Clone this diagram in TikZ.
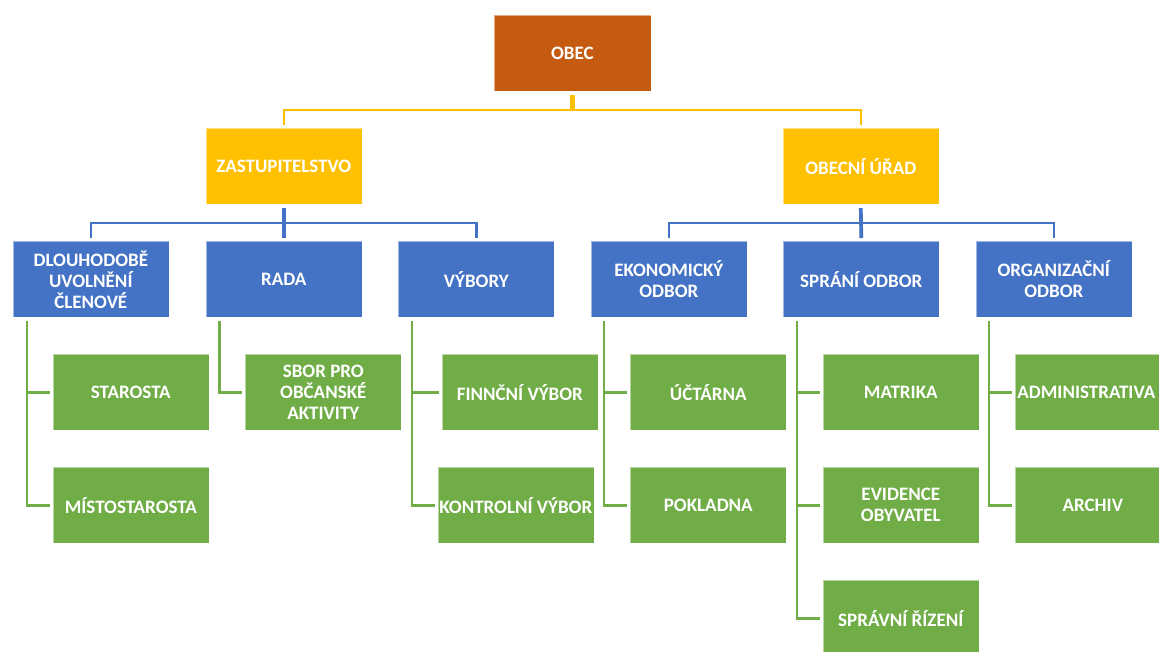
\documentclass[tikz,border=0pt]{standalone}
\usepackage{fontspec}
\setmainfont{Carlito}
\usetikzlibrary{calc}
\definecolor{corange}{HTML}{C55A11}
\definecolor{cyellow}{HTML}{FFC000}
\definecolor{cblue}{HTML}{4472C4}
\definecolor{cgreen}{HTML}{70AD47}
\tikzset{
  boxfont/.style={text=white, font=\fontsize{19}{21}\selectfont\bfseries},
  box/.style={anchor=north west, minimum width=156pt, minimum height=76pt, inner sep=0pt,
    align=center, boxfont,
    draw=white, draw opacity=0.5, line width=0.6pt},
  obox/.style={box, fill=corange, minimum width=157pt},
  ybox/.style={box, fill=cyellow},
  bbox/.style={box, fill=cblue},
  gbox/.style={box, fill=cgreen},
  ythin/.style={draw=cyellow, line width=2pt},
  ythick/.style={draw=cyellow, line width=4.5pt},
  bthin/.style={draw=cblue, line width=2.4pt},
  bthick/.style={draw=cblue, line width=3.7pt},
  gline/.style={draw=cgreen, line width=2.8pt},
}
\begin{document}
\begin{tikzpicture}[x=1pt,y=-1pt]
\useasboundingbox (0,0) rectangle (1159,651);
% level 0
\node[obox] (obec) at (493.5,15) {OBEC};
% level 1
\node[ybox] (zast) at (205.5,128) {ZASTUPITELSTVO};
\node[ybox] (urad) at (782.5,128) {OBECNÍ ÚŘAD};
% level 2
\node[bbox] (dlouho) at (12.5,241) {DLOUHODOBĚ\\UVOLNĚNÍ\\ČLENOVÉ};
\node[bbox] (rada) at (205.5,241) {RADA};
\node[bbox] (vybory) at (398,241) {VÝBORY};
\node[bbox] (ekon) at (590.5,241) {EKONOMICKÝ\\ODBOR};
\node[bbox] (sprani) at (783,241) {SPRÁNÍ ODBOR};
\node[bbox] (organ) at (975.5,241) {ORGANIZAČNÍ\\ODBOR};
% level 3
\node[gbox] (starosta) at (52.5,354) {STAROSTA};
\node[gbox] (mist) at (52.5,467) {MÍSTOSTAROSTA};
\node[gbox] (sbor) at (245,354) {SBOR PRO\\OBČANSKÉ\\AKTIVITY};
\node[gbox] (finn) at (441.5,354) {FINNČNÍ VÝBOR};
\node[gbox] (kontr) at (437.5,467) {KONTROLNÍ VÝBOR};
\node[gbox] (uct) at (630,354) {ÚČTÁRNA};
\node[gbox] (pokl) at (630,467) {POKLADNA};
\node[gbox] (matr) at (822.5,354) {MATRIKA};
\node[gbox] (evid) at (822.5,467) {EVIDENCE\\OBYVATEL};
\node[gbox] (rizeni) at (822.5,580) {SPRÁVNÍ ŘÍZENÍ};
\node[gbox] (admin) at (1014.5,354) {};
\node[boxfont, inner sep=0pt] (admintext) at ([xshift=-6.5pt]admin.center) {ADMINISTRATIVA};
\node[gbox] (archiv) at (1014.5,467) {ARCHIV};
% yellow connectors
\coordinate (yb) at (573,110);
\draw[ythin] ([yshift=3pt]zast.north) -- (zast.north |- yb) -- (urad.north |- yb) -- ([yshift=3pt]urad.north);
\draw[ythick] ([yshift=-3.5pt]obec.south) -- ([yshift=1pt]obec.south |- yb);
% blue connectors
\coordinate (zb) at (283.5,223);
\draw[bthin] ([yshift=3pt]dlouho.north) -- (dlouho.north |- zb) -- (vybory.north |- zb) -- ([yshift=3pt]vybory.north);
\draw[bthick] ([yshift=-3.5pt]zast.south) -- ([yshift=3pt]rada.north);
\coordinate (ub) at (861,223);
\draw[bthin] ([yshift=3pt]ekon.north) -- (ekon.north |- ub) -- (organ.north |- ub) -- ([yshift=3pt]organ.north);
\draw[bthick] ([yshift=-3.5pt]urad.south) -- ([yshift=3pt]sprani.north);
% green connectors
\coordinate (g1) at (27,320.5);
\draw[gline] (g1) |- ([xshift=-3pt]mist.west);
\draw[gline] (g1 |- starosta.west) -- ([xshift=-3pt]starosta.west);
\coordinate (g2) at (219.5,320.5);
\draw[gline] (g2) |- ([xshift=-3pt]sbor.west);
\coordinate (g3) at (412,320.5);
\draw[gline] (g3) |- ([xshift=-3pt]kontr.west);
\draw[gline] (g3 |- finn.west) -- ([xshift=-3pt]finn.west);
\coordinate (g4) at (604,320.5);
\draw[gline] (g4) |- ([xshift=-3pt]pokl.west);
\draw[gline] (g4 |- uct.west) -- ([xshift=-3pt]uct.west);
\coordinate (g5) at (797,320.5);
\draw[gline] (g5) |- ([xshift=-3pt]rizeni.west);
\draw[gline] (g5 |- matr.west) -- ([xshift=-3pt]matr.west);
\draw[gline] (g5 |- evid.west) -- ([xshift=-3pt]evid.west);
\coordinate (g6) at (989,320.5);
\draw[gline] (g6) |- ([xshift=-3pt]archiv.west);
\draw[gline] (g6 |- admin.west) -- ([xshift=-3pt]admin.west);
\end{tikzpicture}
\end{document}
